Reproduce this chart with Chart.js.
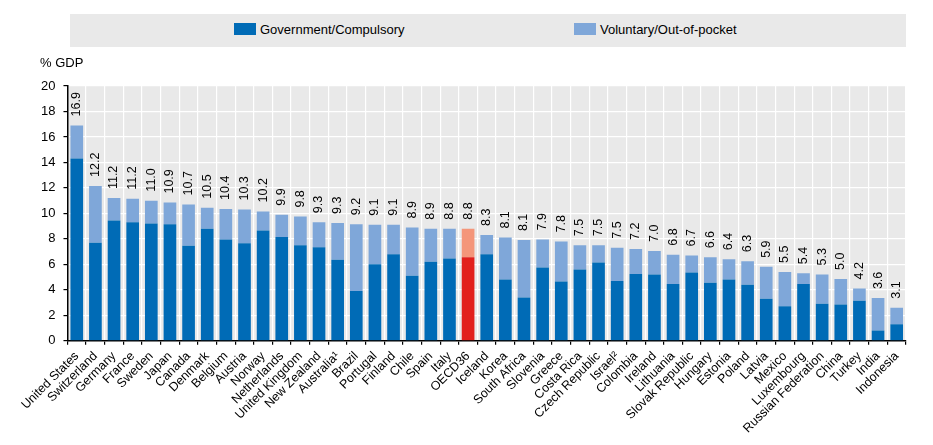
<!DOCTYPE html>
<html>
<head>
<meta charset="utf-8">
<script src="https://cdn.jsdelivr.net/npm/chart.js@4.4.1/dist/chart.umd.min.js"></script>
<style>
  body { margin: 0; background: #fff; }
  #wrap { position: relative; width: 933px; height: 445px; }
  #legend { position: absolute; left: 70px; top: 14px; width: 836px; height: 33px; background: #e9e9e9;
            font: 13px "Liberation Sans Narrow", "Liberation Sans", Arial, sans-serif; color: #000; }
  .item { position: absolute; top: 9px; height: 14px; line-height: 14px; white-space: nowrap; }
  .sw { display: inline-block; width: 22px; height: 12px; vertical-align: -1px; margin-right: 4px; }
  #unit { position: absolute; left: 40px; top: 55px; font: 13px "Liberation Sans Narrow", "Liberation Sans", Arial, sans-serif; color: #000; }
</style>
</head>
<body>
<div id="wrap">
  <canvas id="myChart" width="933" height="445"></canvas>
  <div id="legend">
    <div class="item" style="left:164px"><span class="sw" style="background:#006bb6"></span>Government/Compulsory</div>
    <div class="item" style="left:504px"><span class="sw" style="background:#7fa7d9"></span>Voluntary/Out-of-pocket</div>
  </div>
  <div id="unit">% GDP</div>
</div>
<script>
const paises = [
  "United States", "Switzerland", "Germany", "France", "Sweden", "Japan", "Canada",
  "Denmark", "Belgium", "Austria", "Norway", "Netherlands", "United Kingdom", "New Zealand",
  "Australia\u00b9", "Brazil", "Portugal", "Finland", "Chile", "Spain", "Italy", "OECD36",
  "Iceland", "Korea", "South Africa", "Slovenia", "Greece", "Costa Rica", "Czech Republic",
  "Israel\u00b2", "Colombia", "Ireland", "Lithuania", "Slovak Republic", "Hungary", "Estonia",
  "Poland", "Latvia", "Mexico", "Luxembourg", "Russian Federation", "China", "Turkey",
  "India", "Indonesia",
];
const gobierno = [
  14.3, 7.7, 9.45, 9.3, 9.2, 9.15, 7.45, 8.8, 7.95, 7.65, 8.65, 8.15, 7.5, 7.35,
  6.35, 3.9, 6.0, 6.8, 5.1, 6.2, 6.45, 6.55, 6.8, 4.8, 3.4, 5.75, 4.65, 5.6, 6.15,
  4.7, 5.25, 5.2, 4.45, 5.35, 4.55, 4.8, 4.4, 3.3, 2.7, 4.45, 2.9, 2.85, 3.15, 0.8, 1.3,
];
const voluntario = [
  2.6, 4.45, 1.75, 1.85, 1.8, 1.7, 3.25, 1.65, 2.4, 2.65, 1.5, 1.75, 2.25, 1.95,
  2.9, 5.25, 3.1, 2.3, 3.8, 2.6, 2.35, 2.25, 1.5, 3.3, 4.5, 2.2, 3.15, 1.9, 1.35,
  2.6, 1.95, 1.85, 2.3, 1.35, 2.0, 1.6, 1.85, 2.5, 2.7, 0.85, 2.3, 2.0, 0.95, 2.55, 1.3,
];
const totales = [
  "16.9", "12.2", "11.2", "11.2", "11.0", "10.9", "10.7", "10.5", "10.4", "10.3", "10.2",
  "9.9", "9.8", "9.3", "9.3", "9.2", "9.1", "9.1", "8.9", "8.9", "8.8", "8.8", "8.3",
  "8.1", "8.1", "7.9", "7.8", "7.5", "7.5", "7.5", "7.2", "7.0", "6.8", "6.7", "6.6",
  "6.4", "6.3", "5.9", "5.5", "5.4", "5.3", "5.0", "4.2", "3.6", "3.1",
];

const fuente = '"Liberation Sans", Arial, sans-serif';

const fondo = {
  id: "fondo",
  beforeDraw(chart) {
    const a = chart.chartArea;
    chart.ctx.save();
    chart.ctx.fillStyle = "#e9e9e9";
    chart.ctx.fillRect(a.left, a.top, a.right - a.left, a.bottom - a.top);
    chart.ctx.restore();
  },
};

const etiquetas = {
  id: "etiquetas",
  afterDatasetsDraw(chart) {
    const ctx = chart.ctx;
    const meta = chart.getDatasetMeta(1);
    ctx.save();
    ctx.fillStyle = "#000";
    ctx.font = "12.5px " + fuente;
    ctx.textAlign = "left";
    ctx.textBaseline = "middle";
    meta.data.forEach((bar, i) => {
      ctx.save();
      ctx.translate(bar.x, bar.y - 9);
      ctx.rotate(-Math.PI / 2);
      ctx.fillText(totales[i], 0, 0);
      ctx.restore();
    });
    ctx.restore();
  },
};

const ctx = document.getElementById("myChart");
const myChart = new Chart(ctx, {
  type: "bar",
  data: {
    labels: paises,
    datasets: [
      {
        label: "Government/Compulsory",
        data: gobierno,
        backgroundColor: paises.map((p) => (p === "OECD36" ? "#e2201c" : "#006bb6")),
      },
      {
        label: "Voluntary/Out-of-pocket",
        data: voluntario,
        backgroundColor: paises.map((p) => (p === "OECD36" ? "#f4967a" : "#7fa7d9")),
      },
    ],
  },
  options: {
    responsive: false,
    animation: false,
    datasets: { bar: { categoryPercentage: 1, barPercentage: 0.68 } },
    layout: { padding: { top: 86, left: 33, right: 27, bottom: 5 } },
    plugins: { legend: { display: false }, tooltip: { enabled: false } },
    scales: {
      x: {
        stacked: true,
        grid: { color: "#fff", lineWidth: 1.2, tickColor: "#000", tickLength: 4 },
        border: { color: "#000", width: 1.5 },
        ticks: {
          autoSkip: false, maxRotation: 45, minRotation: 45, padding: 4,
          color: "#000", font: { family: fuente, size: 12.5 },
        },
      },
      y: {
        stacked: true,
        min: 0,
        max: 20,
        grid: { color: "#fff", lineWidth: 1.2, tickColor: "#000", tickLength: 4 },
        border: { color: "#000", width: 1.5 },
        ticks: { stepSize: 2, padding: 8, color: "#000", font: { family: fuente, size: 13 } },
      },
    },
  },
  plugins: [fondo, etiquetas],
});
</script>
</body>
</html>
